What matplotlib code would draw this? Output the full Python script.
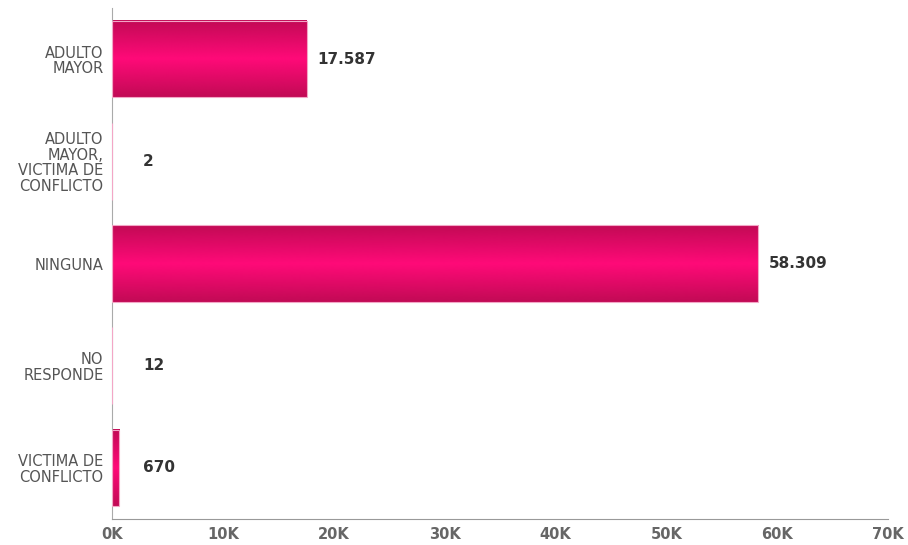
import matplotlib.pyplot as plt
import numpy as np
from matplotlib.colors import LinearSegmentedColormap
from matplotlib.ticker import FuncFormatter

# Datos
categorias = ["ADULTO\nMAYOR", "ADULTO\nMAYOR,\nVICTIMA DE\nCONFLICTO", "NINGUNA",
              "NO\nRESPONDE", "VICTIMA DE\nCONFLICTO"]
valores = [17587, 2, 58309, 12, 670]
etiquetas = ["17.587", "2", "58.309", "12", "670"]

fig = plt.figure(figsize=(9.08, 5.45), dpi=100)
ax = fig.add_axes([0.1233, 0.0477, 0.8547, 0.9376])

# degradado vertical de las barras
cmap = LinearSegmentedColormap.from_list(
    "rosa", ["#c20a55", "#ff0a78", "#c20a55"])
grad = np.linspace(0, 1, 256).reshape(-1, 1)

y = np.arange(len(categorias))
alto = 0.75
for yi, v in zip(y, valores):
    ax.imshow(grad, cmap=cmap, aspect="auto", interpolation="bilinear",
              extent=[0, v, yi + alto / 2, yi - alto / 2], zorder=2)
    ax.add_patch(plt.Rectangle((0, yi - alto / 2), v, alto, fill=False,
                               edgecolor="#f3a6c6", lw=0.8, zorder=3))

for yi, v, t in zip(y, valores, etiquetas):
    ax.annotate(t, (max(v, 1900), yi), xytext=(10, 0), textcoords="offset pixels",
                ha="left", va="center", fontsize=11, fontweight="bold", color="#333333")

ax.set_xlim(0, 70000)
ax.set_ylim(len(categorias) - 0.5, -0.5)
ax.set_xticks(np.arange(0, 70001, 10000))
ax.xaxis.set_major_formatter(FuncFormatter(lambda x, p: f"{int(x / 1000)}K"))
ax.set_yticks(y)
ax.set_yticklabels(categorias, fontsize=10.5, color="#555555", linespacing=1.05)
for lbl in ax.get_xticklabels():
    lbl.set_fontweight("bold")
    lbl.set_color("#666666")
    lbl.set_fontsize(10.5)
ax.tick_params(length=0)
ax.tick_params(axis="x", pad=6)
ax.tick_params(axis="y", pad=6)
for s in ["top", "right"]:
    ax.spines[s].set_visible(False)
ax.spines["left"].set_color("#aaaaaa")
ax.spines["bottom"].set_color("#999999")

fig.savefig("out.png", dpi=100)
